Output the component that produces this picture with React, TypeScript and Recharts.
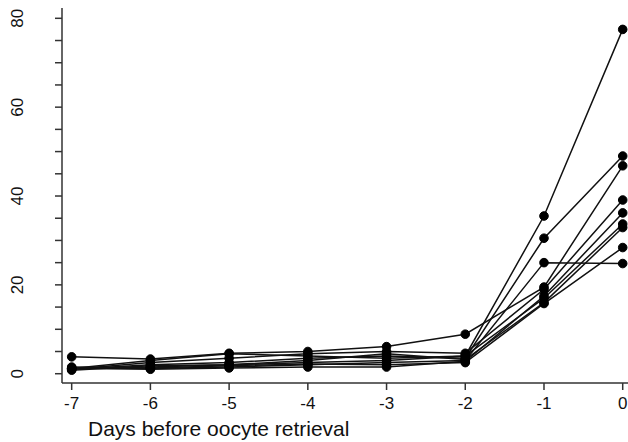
import React from "react";
import { LineChart, Line, XAxis, YAxis } from "recharts";

const days = [-7, -6, -5, -4, -3, -2, -1, 0];
const xTicks = [-7, -6, -5, -4, -3, -2, -1, 0];
const yTicks = [0, 5, 10, 15, 20, 25, 30, 35, 40, 45, 50, 55, 60, 65, 70, 75, 80];
const yLabelTicks = [0, 20, 40, 60, 80];

const s1 = [1.2, 1.5, 2.0, 2.5, 3.0, 4.0, 35.5, 77.5];
const s2 = [1.0, 2.0, 2.5, 3.5, 4.0, 3.5, 30.5, 49.0];
const s3 = [1.2, 1.2, 1.5, 2.0, 2.5, 3.0, 25.0, 24.8];
const s4 = [3.8, 3.3, 4.6, 5.0, 6.1, 8.9, 19.5, 46.8];
const s5 = [1.0, 2.5, 3.5, 4.5, 5.0, 4.6, 19.0, 39.1];
const s6 = [1.3, 1.0, 1.3, 1.5, 1.5, 2.8, 17.5, 36.2];
const s7 = [1.2, 3.0, 4.5, 4.0, 3.5, 4.0, 17.0, 33.7];
const s8 = [0.8, 1.8, 2.0, 3.0, 4.5, 3.2, 16.0, 32.9];
const s9 = [1.5, 1.3, 1.8, 2.2, 2.0, 2.5, 15.8, 28.4];

const series = [s1, s2, s3, s4, s5, s6, s7, s8, s9];
const keys = series.map((_, i) => "s" + (i + 1));

const data = days.map((d, j) => {
  const row: Record<string, number> = { day: d };
  series.forEach((s, i) => {
    row[keys[i]] = s[j];
  });
  return row;
});

const FONT = "'Liberation Sans', Arial, Helvetica, sans-serif";
const AXIS = "#333";

const YTick = (props: any) => {
  const { y, payload } = props;
  if (!yLabelTicks.includes(payload.value)) return null;
  const cx = 18;
  return (
    <text
      x={cx}
      y={y}
      transform={`rotate(-90, ${cx}, ${y})`}
      textAnchor="middle"
      dominantBaseline="central"
      fontSize={17}
      fontFamily={FONT}
      fill="#111"
    >
      {payload.value}
    </text>
  );
};

const XTitle = () => (
  <text x={88} y={436} fontSize={21} fontFamily={FONT} fill="#111">
    Days before oocyte retrieval
  </text>
);

export default function App() {
  return (
    <div
      style={{
        position: "absolute",
        left: 0,
        top: 0,
        width: 628,
        height: 442,
        overflow: "hidden",
        background: "#fff",
      }}
    >
      <LineChart
        width={640}
        height={442}
        data={data}
        margin={{ top: 8, right: 8, bottom: 0, left: 0 }}
      >
        <XAxis
          dataKey="day"
          type="number"
          domain={[-7.123, 0.118]}
          ticks={xTicks}
          allowDataOverflow
          height={59}
          tickSize={7}
          tickMargin={7}
          stroke={AXIS}
          strokeWidth={1.5}
          tick={{ fontSize: 17, fontFamily: FONT, fill: "#111" }}
          label={{ content: () => <XTitle /> }}
        />
        <XAxis
          xAxisId="top"
          orientation="top"
          dataKey="day"
          type="number"
          domain={[-7.123, 0.118]}
          height={0}
          tick={false}
          tickLine={false}
          stroke={AXIS}
          strokeWidth={1.5}
        />
        <YAxis
          type="number"
          domain={[-2.09, 82.32]}
          ticks={yTicks}
          allowDataOverflow
          width={62}
          tickSize={7}
          stroke={AXIS}
          strokeWidth={1.5}
          tick={<YTick />}
          interval={0}
        />
        {keys.map((k) => (
          <Line
            key={k}
            dataKey={k}
            type="linear"
            stroke="#111"
            strokeWidth={1.5}
            dot={{ r: 4.3, fill: "#000", stroke: "#000", strokeWidth: 1 }}
            isAnimationActive={false}
          />
        ))}
      </LineChart>
    </div>
  );
}
